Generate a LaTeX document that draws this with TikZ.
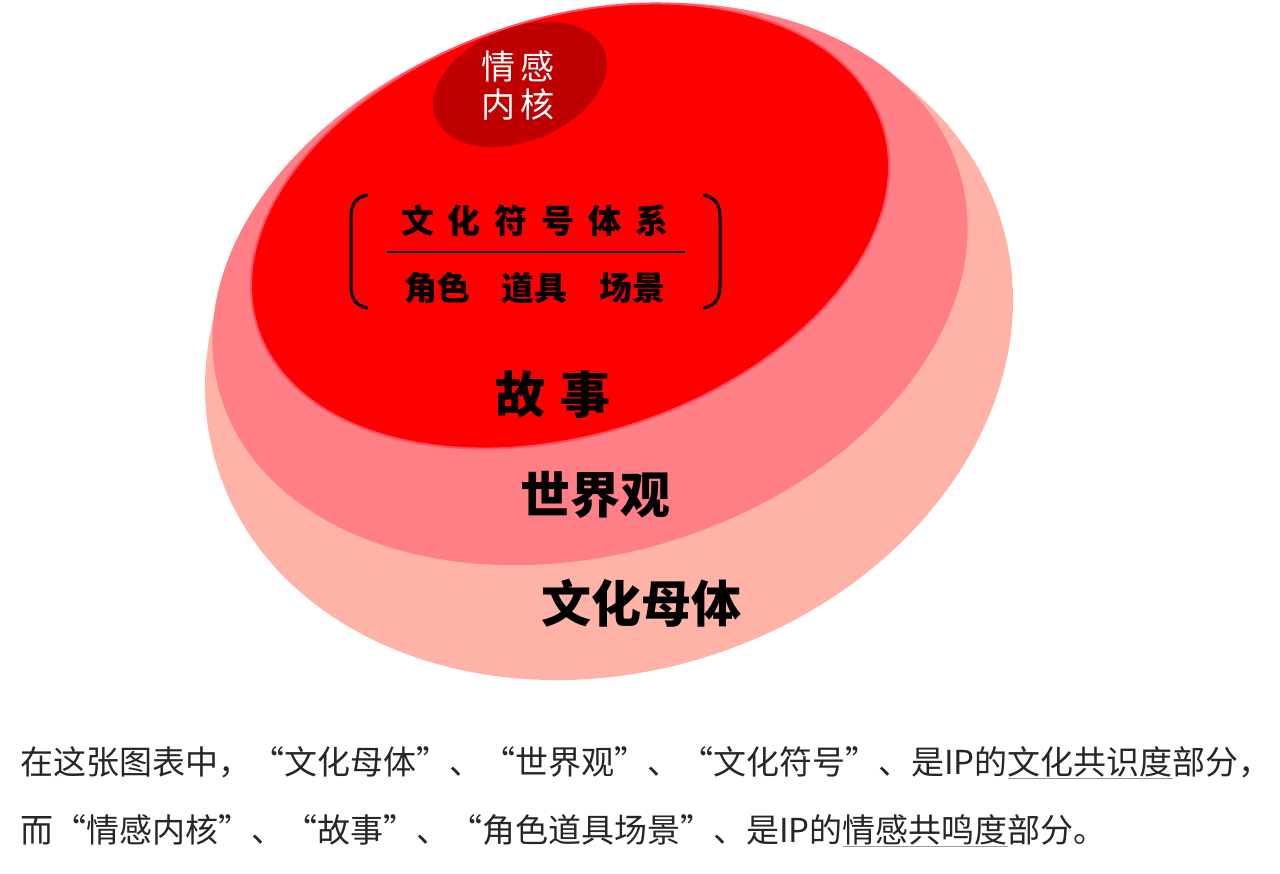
\documentclass[tikz,border=0pt]{standalone}
\usepackage{fontspec}
\usepackage{xcolor}
\usepackage{tikz}
\newfontfamily\cjk{Noto Sans CJK SC}
\definecolor{matrixpink}{RGB}{255,179,167}
\definecolor{worldpink}{RGB}{255,127,134}
\definecolor{storyred}{RGB}{255,0,0}
\definecolor{storyrim}{RGB}{255,80,96}
\definecolor{coredark}{RGB}{190,0,0}
\newcommand\grayul[1]{\setbox0\hbox{#1}\rlap{\color{black!40}\rule[-5pt]{\wd0}{1.3pt}}\box0}

\begin{document}
\begin{tikzpicture}[x=1pt,y=-1pt,
	layer/.style={font=\cjk\bfseries\fontsize{50}{50}\selectfont,inner sep=0pt},
	tag/.style={font=\cjk\fontsize{34}{38}\selectfont,inner sep=0pt,align=center},
	note/.style={font=\cjk\fontsize{33}{33}\selectfont,text=black!85,inner sep=0pt,anchor=base west},
	brace/.style={line width=3pt,line cap=round}]
	\useasboundingbox (0,0) rectangle (1280,873);
	\fill[matrixpink] (609,343.5) circle [x radius=410.8pt,y radius=328.1pt,rotate=17.6];
	\fill[worldpink] (590,284) circle [x radius=386pt,y radius=269.4pt,rotate=16.9];
	\filldraw[fill=storyred,draw=storyrim,line width=2pt] (570,226) circle [x radius=328.6pt,y radius=208pt,rotate=18.1];
	\fill[coredark] (520,84.5) circle [x radius=90.9pt,y radius=56.7pt,rotate=21.8];

	\node[tag,text=white] (core) at (518,86) {情\hspace{6pt}感\\内\hspace{6pt}核};
	\node[tag,font=\cjk\bfseries\fontsize{33}{38}\selectfont] (symbols) at (535,221) {文\hspace{14pt}化\hspace{14pt}符\hspace{14pt}号\hspace{14pt}体\hspace{14pt}系};
	\node[tag,font=\cjk\bfseries\fontsize{33}{38}\selectfont] (props) at (535,288) {角色\hspace{32pt}道具\hspace{32pt}场景};
	\draw[line width=1.2pt] (387,252) -- (685,252);
	\draw[brace] (367,195) .. controls (355,198) and (351,205) .. (351,217) -- (351,286) .. controls (351,298) and (355,305) .. (367,308);
	\draw[brace] (704,195) .. controls (716,198) and (720,205) .. (720,217) -- (720,286) .. controls (720,298) and (716,305) .. (704,308);

	\node[layer] (story) at (553,395) {故\hspace{15pt}事};
	\node[layer] (world) at (595,495) {世界观};
	\node[layer] (culture) at (641,603) {文化母体};

	\node[note] (line1) at (20,774) {在这张图表中，“文化母体”、“世界观”、“文化符号”、是IP的\grayul{文化共识度}部分，};
	\node[note] (line2) at (20,842) {而“情感内核”、“故事”、“角色道具场景”、是IP的\grayul{情感共鸣度}部分。};
\end{tikzpicture}
\end{document}
